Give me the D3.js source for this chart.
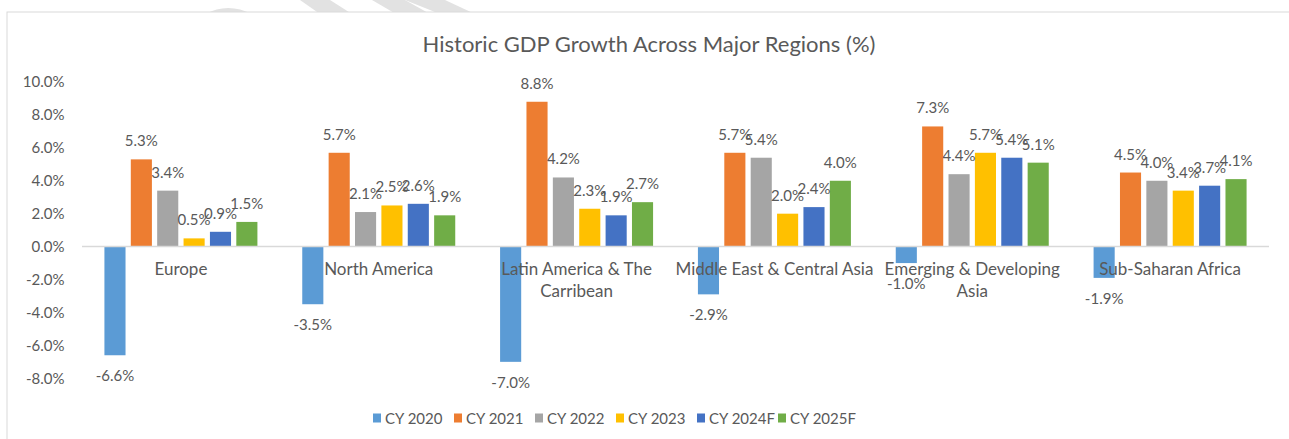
<!DOCTYPE html>
<html>
<head>
<meta charset="utf-8">
<script src="https://cdn.jsdelivr.net/npm/d3@7"></script>
<style>
	body { margin: 0; background: #fff; }
	text { font-family: Lato, "Open Sans", sans-serif; fill: #595959; }
</style>
</head>
<body>
<script>
// dane wykresu
var regions = ["Europe", "North America", "Latin America & The Carribean", "Middle East & Central Asia", "Emerging & Developing Asia", "Sub-Saharan Africa"];
var regionLines = [["Europe"], ["North America"], ["Latin America & The", "Carribean"], ["Middle East & Central Asia"], ["Emerging & Developing", "Asia"], ["Sub-Saharan Africa"]];
var years = ["CY 2020", "CY 2021", "CY 2022", "CY 2023", "CY 2024F", "CY 2025F"];
var cy2020 = [-6.6, -3.5, -7.0, -2.9, -1.0, -1.9];
var cy2021 = [5.3, 5.7, 8.8, 5.7, 7.3, 4.5];
var cy2022 = [3.4, 2.1, 4.2, 5.4, 4.4, 4.0];
var cy2023 = [0.5, 2.5, 2.3, 2.0, 5.7, 3.4];
var cy2024 = [0.9, 2.6, 1.9, 2.4, 5.4, 3.7];
var cy2025 = [1.5, 1.9, 2.7, 4.0, 5.1, 4.1];
var yTicks = [10, 8, 6, 4, 2, 0, -2, -4, -6, -8];
var colors = ["#5B9BD5", "#ED7D31", "#A5A5A5", "#FFC000", "#4472C4", "#70AD47"];

var series = [cy2020, cy2021, cy2022, cy2023, cy2024, cy2025];

var config = {
	width: 1289,
	height: 439,
	left: 82,
	right: 1269
};

var svg = d3.select("body")
	.append("svg")
	.attr("width", config.width)
	.attr("height", config.height);

// szary znak wodny u gory
var wm = svg.append("g").attr("fill", "#e2e2e2");
wm.append("path").attr("d", "M205,14 Q228,2 252,14 Z");
wm.append("path").attr("d", "M300,0 L330,0 L352,14 L320,14 Z");
wm.append("path").attr("d", "M372,0 L405,0 L430,14 L396,14 Z");
wm.append("path").attr("d", "M405,0 L445,0 L475,14 L440,14 Z");

// ramka wykresu
svg.append("rect")
	.attr("x", 7)
	.attr("y", 12)
	.attr("width", 1300)
	.attr("height", 440)
	.attr("fill", "#fff")
	.attr("stroke", "#d9d9d9")
	.attr("stroke-width", 1);

svg.append("text")
	.attr("x", 649)
	.attr("y", 52)
	.attr("text-anchor", "middle")
	.style("font-size", "22px")
	.text("Historic GDP Growth Across Major Regions (%)");

var x0 = d3.scaleBand()
	.domain(regions)
	.range([config.left, config.right])
	.paddingInner(0.2)
	.paddingOuter(0.1);

var x1 = d3.scaleBand()
	.domain(years)
	.range([0, x0.bandwidth()])
	.paddingInner(0.2)
	.paddingOuter(0.1);

var y = d3.scaleLinear()
	.domain([-8, 10])
	.range([378.3, 82]);

// os Y
var yAxis = svg.append("g")
	.attr("transform", "translate(" + 64.5 + ",0)")
	.call(d3.axisLeft(y).tickValues(yTicks).tickSize(0).tickPadding(0).tickFormat(function(d) { return d.toFixed(1) + "%"; }));
yAxis.select(".domain").remove();
yAxis.selectAll("text")
	.style("font-size", "15px")
	.style("font-family", "Lato, sans-serif")
	.attr("fill", "#595959");

// slupki
var groups = svg.selectAll("g.region")
	.data(regions)
	.enter()
	.append("g")
	.attr("class", "region")
	.attr("transform", function(d) { return "translate(" + x0(d) + ",0)"; });

groups.each(function(r, ri) {
	var g = d3.select(this);
	var vals = series.map(function(s, si) { return { year: years[si], v: s[ri], c: colors[si] }; });
	g.selectAll("rect")
		.data(vals)
		.enter()
		.append("rect")
		.attr("x", function(d) { return x1(d.year); })
		.attr("y", function(d) { return y(Math.max(0, d.v)); })
		.attr("width", x1.bandwidth())
		.attr("height", function(d) { return Math.abs(y(d.v) - y(0)); })
		.attr("fill", function(d) { return d.c; });
});

// linia zero
svg.append("line")
	.attr("x1", config.left)
	.attr("x2", config.right)
	.attr("y1", y(0))
	.attr("y2", y(0))
	.attr("stroke", "#d9d9d9")
	.attr("stroke-width", 1.5);

// etykiety wartosci
groups.each(function(r, ri) {
	var g = d3.select(this);
	var vals = series.map(function(s, si) { return { year: years[si], v: s[ri] }; });
	g.selectAll("text.val")
		.data(vals)
		.enter()
		.append("text")
		.attr("class", "val")
		.attr("x", function(d) { return x1(d.year) + x1.bandwidth() / 2; })
		.attr("y", function(d) { return d.v >= 0 ? y(d.v) - 13 : y(d.v) + 26; })
		.attr("text-anchor", "middle")
		.style("font-size", "15px")
		.text(function(d) { return d.v.toFixed(1) + "%"; });
});

// nazwy regionow
groups.each(function(r, ri) {
	d3.select(this).append("text")
		.attr("x", x0.bandwidth() / 2)
		.attr("y", y(0) + 28)
		.attr("text-anchor", "middle")
		.style("font-size", "17px")
		.selectAll("tspan")
		.data(regionLines[ri])
		.enter()
		.append("tspan")
		.attr("x", x0.bandwidth() / 2)
		.attr("dy", function(d, i) { return i == 0 ? 0 : 22; })
		.text(function(d) { return d; });
});

// legenda
var legend = svg.append("g")
	.attr("transform", "translate(373,418)");

var item = legend.selectAll("g")
	.data(years)
	.enter()
	.append("g")
	.attr("transform", function(d, i) { return "translate(" + (i * 81) + ",0)"; });

item.append("rect")
	.attr("x", 0)
	.attr("y", -4.5)
	.attr("width", 8)
	.attr("height", 9)
	.attr("fill", function(d, i) { return colors[i]; });

item.append("text")
	.attr("x", 12)
	.attr("y", 5.5)
	.style("font-size", "15px")
	.text(function(d) { return d; });
</script>
</body>
</html>
